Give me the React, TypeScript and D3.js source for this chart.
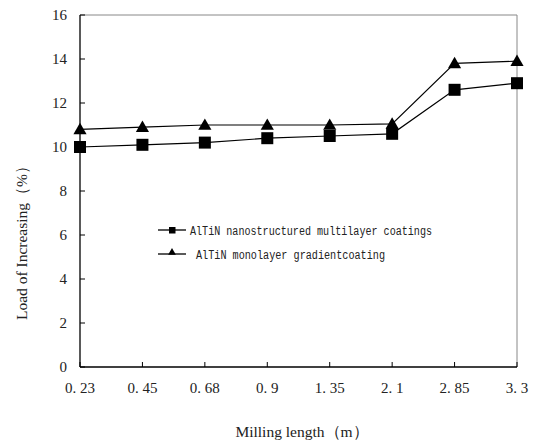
import React from "react";
import * as d3 from "d3";

const categories = ["0. 23", "0. 45", "0. 68", "0. 9", "1. 35", "2. 1", "2. 85", "3. 3"];
const multilayer = [10.0, 10.1, 10.2, 10.4, 10.5, 10.6, 12.6, 12.9];
const monolayer = [10.8, 10.9, 11.0, 11.0, 11.0, 11.05, 13.8, 13.9];
const yTicks = [0, 2, 4, 6, 8, 10, 12, 14, 16];
const seriesNames = ["AlTiN nanostructured multilayer coatings", "AlTiN monolayer gradientcoating"];

const W = 536, H = 443;
const L = 80, R = 517, T = 15, B = 367;

export default function App() {
  const x = d3.scalePoint<string>().domain(categories).range([L, R]).padding(0);
  const y = d3.scaleLinear().domain([0, 16]).range([B, T]);
  const line = d3.line<number>().x((_, i) => x(categories[i])!).y((d) => y(d));
  const tri = d3.symbol().type(d3.symbolTriangle).size(75)();
  const serif = "'Liberation Serif', 'Times New Roman', serif";
  const mono = "'Liberation Mono', 'DejaVu Sans Mono', monospace";
  return (
    <svg width={W} height={H} style={{ position: "absolute", left: 0, top: 0, background: "#fff" }}>
      <rect x={0} y={0} width={W} height={H} fill="#fff" />
      <line x1={L} y1={T} x2={R} y2={T} stroke="#888" strokeWidth={1} />
      <line x1={R} y1={T} x2={R} y2={B} stroke="#888" strokeWidth={1} />
      <line x1={L} y1={T} x2={L} y2={B} stroke="#000" strokeWidth={1.3} />
      <line x1={L} y1={B} x2={R} y2={B} stroke="#000" strokeWidth={1.3} />
      {yTicks.map((t) => (
        <g key={t}>
          <line x1={L} x2={L + 5} y1={y(t)} y2={y(t)} stroke="#000" />
          <text x={67} y={y(t)} dy="0.35em" textAnchor="end" fontFamily={serif} fontSize={15} fill="#222">
            {t}
          </text>
        </g>
      ))}
      {categories.map((c) => (
        <g key={c}>
          <line x1={x(c)!} x2={x(c)!} y1={B} y2={B - 5} stroke="#000" />
          <text x={x(c)!} y={393} textAnchor="middle" fontFamily={serif} fontSize={15} fill="#222">
            {c}
          </text>
        </g>
      ))}
      <path d={line(monolayer)!} fill="none" stroke="#000" strokeWidth={1.2} />
      <path d={line(multilayer)!} fill="none" stroke="#000" strokeWidth={1.2} />
      {monolayer.map((v, i) => (
        <path key={"t" + i} d={tri!} transform={`translate(${x(categories[i])},${y(v) + 1})`} fill="#000" />
      ))}
      {multilayer.map((v, i) => (
        <rect key={"s" + i} x={x(categories[i])! - 6} y={y(v) - 6} width={12} height={12} fill="#000" />
      ))}
      <line x1={158} x2={186} y1={230} y2={230} stroke="#000" strokeWidth={1.3} />
      <rect x={169} y={227} width={6.5} height={6.5} fill="#000" />
      <text x={190} y={234.5} fontFamily={mono} fontSize={12.5} textLength={242} lengthAdjust="spacingAndGlyphs" fill="#222">
        {seriesNames[0]}
      </text>
      <line x1={158} x2={186} y1={254} y2={254} stroke="#000" strokeWidth={1.3} />
      <path d={d3.symbol().type(d3.symbolTriangle).size(26)()!} transform="translate(172,252.5)" fill="#000" />
      <text x={196} y={258.5} fontFamily={mono} fontSize={12.5} textLength={189} lengthAdjust="spacingAndGlyphs" fill="#222">
        {seriesNames[1]}
      </text>
      <text x={302} y={437} textAnchor="middle" fontFamily={serif} fontSize={15.5} fill="#222">
        Milling length（m）
      </text>
      <text transform="translate(27,239) rotate(-90)" textAnchor="middle" fontFamily={serif} fontSize={15.5} fill="#222">
        Load of Increasing（%）
      </text>
    </svg>
  );
}
